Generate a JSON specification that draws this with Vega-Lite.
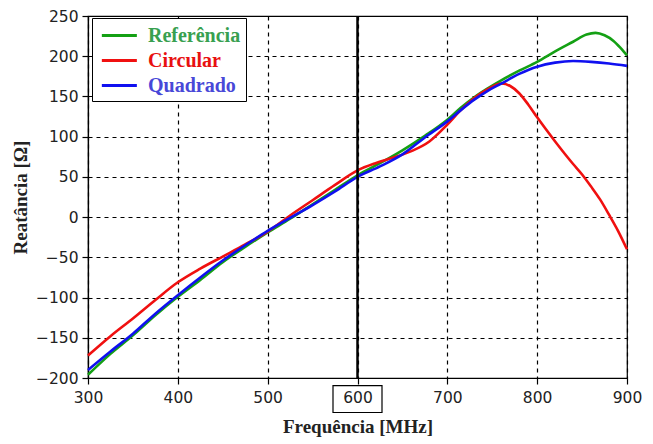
{
  "$schema": "https://vega.github.io/schema/vega-lite/v6.json",
  "width": 539,
  "height": 362,
  "autosize": {"type": "none"},
  "padding": {"left": 88, "top": 16, "right": 26, "bottom": 66},
  "background": "white",
  "config": {
    "view": {"stroke": "#000", "strokeWidth": 1.2},
    "axis": {
      "domainColor": "#000", "domainWidth": 1.2,
      "tickColor": "#000", "tickSize": 6, "tickWidth": 1.2,
      "gridColor": "#000", "gridDash": [4, 4], "gridWidth": 1.2, "gridOpacity": 1,
      "labelFont": "DejaVu Sans", "labelFontSize": 15.5, "labelColor": "#222",
      "titleFont": "Liberation Serif", "titleFontSize": 19, "titleFontWeight": "bold", "titleColor": "#222"
    }
  },
  "datasets": {
    "curves": [
      {"f": 300, "v": -196, "s": "Referência"}, {"f": 325, "v": -170, "s": "Referência"}, {"f": 350, "v": -147, "s": "Referência"}, {"f": 375, "v": -122, "s": "Referência"}, {"f": 400, "v": -99, "s": "Referência"}, {"f": 425, "v": -78, "s": "Referência"}, {"f": 450, "v": -56, "s": "Referência"}, {"f": 475, "v": -37, "s": "Referência"}, {"f": 500, "v": -19, "s": "Referência"}, {"f": 525, "v": -2, "s": "Referência"}, {"f": 550, "v": 16, "s": "Referência"}, {"f": 575, "v": 34, "s": "Referência"}, {"f": 600, "v": 52, "s": "Referência"}, {"f": 625, "v": 67, "s": "Referência"}, {"f": 650, "v": 83, "s": "Referência"}, {"f": 675, "v": 101, "s": "Referência"}, {"f": 700, "v": 121, "s": "Referência"}, {"f": 715, "v": 136, "s": "Referência"}, {"f": 730, "v": 149, "s": "Referência"}, {"f": 745, "v": 160, "s": "Referência"}, {"f": 760, "v": 170, "s": "Referência"}, {"f": 780, "v": 182, "s": "Referência"}, {"f": 800, "v": 193, "s": "Referência"}, {"f": 820, "v": 206, "s": "Referência"}, {"f": 840, "v": 218, "s": "Referência"}, {"f": 855, "v": 227, "s": "Referência"}, {"f": 865, "v": 229, "s": "Referência"}, {"f": 875, "v": 226, "s": "Referência"}, {"f": 885, "v": 219, "s": "Referência"}, {"f": 893, "v": 210, "s": "Referência"}, {"f": 900, "v": 201, "s": "Referência"},
      {"f": 300, "v": -172, "s": "Circular"}, {"f": 325, "v": -148, "s": "Circular"}, {"f": 350, "v": -126, "s": "Circular"}, {"f": 375, "v": -103, "s": "Circular"}, {"f": 400, "v": -81, "s": "Circular"}, {"f": 425, "v": -64, "s": "Circular"}, {"f": 450, "v": -49, "s": "Circular"}, {"f": 475, "v": -34, "s": "Circular"}, {"f": 500, "v": -18, "s": "Circular"}, {"f": 525, "v": 2, "s": "Circular"}, {"f": 550, "v": 21, "s": "Circular"}, {"f": 575, "v": 40, "s": "Circular"}, {"f": 600, "v": 58, "s": "Circular"}, {"f": 620, "v": 67, "s": "Circular"}, {"f": 640, "v": 74, "s": "Circular"}, {"f": 660, "v": 82, "s": "Circular"}, {"f": 680, "v": 94, "s": "Circular"}, {"f": 700, "v": 115, "s": "Circular"}, {"f": 715, "v": 133, "s": "Circular"}, {"f": 730, "v": 148, "s": "Circular"}, {"f": 745, "v": 159, "s": "Circular"}, {"f": 760, "v": 166, "s": "Circular"}, {"f": 770, "v": 163, "s": "Circular"}, {"f": 780, "v": 154, "s": "Circular"}, {"f": 790, "v": 140, "s": "Circular"}, {"f": 800, "v": 124, "s": "Circular"}, {"f": 820, "v": 94, "s": "Circular"}, {"f": 840, "v": 66, "s": "Circular"}, {"f": 850, "v": 53, "s": "Circular"}, {"f": 860, "v": 38, "s": "Circular"}, {"f": 870, "v": 22, "s": "Circular"}, {"f": 880, "v": 3, "s": "Circular"}, {"f": 890, "v": -17, "s": "Circular"}, {"f": 900, "v": -40, "s": "Circular"},
      {"f": 300, "v": -190, "s": "Quadrado"}, {"f": 325, "v": -167, "s": "Quadrado"}, {"f": 350, "v": -145, "s": "Quadrado"}, {"f": 375, "v": -120, "s": "Quadrado"}, {"f": 400, "v": -97, "s": "Quadrado"}, {"f": 425, "v": -75, "s": "Quadrado"}, {"f": 450, "v": -54, "s": "Quadrado"}, {"f": 475, "v": -35, "s": "Quadrado"}, {"f": 500, "v": -17, "s": "Quadrado"}, {"f": 525, "v": -1, "s": "Quadrado"}, {"f": 550, "v": 15, "s": "Quadrado"}, {"f": 575, "v": 32, "s": "Quadrado"}, {"f": 600, "v": 50, "s": "Quadrado"}, {"f": 625, "v": 63, "s": "Quadrado"}, {"f": 650, "v": 78, "s": "Quadrado"}, {"f": 675, "v": 99, "s": "Quadrado"}, {"f": 700, "v": 119, "s": "Quadrado"}, {"f": 715, "v": 133, "s": "Quadrado"}, {"f": 730, "v": 146, "s": "Quadrado"}, {"f": 745, "v": 157, "s": "Quadrado"}, {"f": 760, "v": 166, "s": "Quadrado"}, {"f": 780, "v": 178, "s": "Quadrado"}, {"f": 800, "v": 187, "s": "Quadrado"}, {"f": 820, "v": 192, "s": "Quadrado"}, {"f": 840, "v": 194, "s": "Quadrado"}, {"f": 860, "v": 193, "s": "Quadrado"}, {"f": 880, "v": 191, "s": "Quadrado"}, {"f": 900, "v": 188, "s": "Quadrado"}
    ],
    "marker": [{"f": 600, "v": -200}]
  },
  "layer": [
    {
      "data": {"name": "curves"},
      "mark": {"type": "line", "strokeWidth": 2.6, "interpolate": "monotone"},
      "encoding": {
        "x": {"field": "f", "type": "quantitative", "scale": {"domain": [300, 900], "nice": false, "zero": false},
              "axis": {"title": "Frequência [MHz]", "values": [300, 400, 500, 600, 700, 800, 900], "labelPadding": 6, "titlePadding": 12, "labelFlush": false}},
        "y": {"field": "v", "type": "quantitative", "scale": {"domain": [-200, 250], "nice": false, "zero": false},
              "axis": {"title": "Reatância [Ω]", "values": [-200, -150, -100, -50, 0, 50, 100, 150, 200, 250], "labelPadding": 4, "titlePadding": 5, "labelFlush": false}},
        "color": {"field": "s", "type": "nominal",
          "scale": {"domain": ["Referência", "Circular", "Quadrado"], "range": ["#14a014", "#f01010", "#1010f0"]},
          "legend": {
            "title": null, "orient": "none", "legendX": 4, "legendY": 2,
            "fillColor": "white", "strokeColor": "#000", "padding": 5, "rowPadding": 2,
            "symbolType": "M-0.7,0L2.5,0", "symbolSize": 479, "symbolStrokeWidth": 3,
            "labelFont": "Liberation Serif", "labelFontSize": 20, "labelFontWeight": "bold", "labelOffset": 26,
            "labelExpr": "datum.label + '  '",
            "encode": {
              "labels": {"update": {"fill": {"signal": "datum.value === 'Referência' ? '#38a050' : datum.value === 'Circular' ? '#e81010' : '#4848d8'"}}},
              "symbols": {"update": {"fill": {"value": "transparent"}, "strokeWidth": {"value": 3}, "stroke": {"signal": "datum.value === 'Referência' ? '#10b010' : datum.value === 'Circular' ? '#ff0000' : '#101070'"}}}
            }
          }
        }
      }
    },
    {
      "data": {"name": "marker"},
      "mark": {"type": "rule", "color": "#000", "strokeWidth": 2.5},
      "encoding": {"x": {"field": "f", "type": "quantitative"}}
    },
    {
      "data": {"name": "marker"},
      "mark": {"type": "point", "shape": "M-1,-0.55L1,-0.55L1,0.55L-1,0.55Z", "size": 2401, "filled": false, "stroke": "#000", "strokeWidth": 1.2, "opacity": 1, "yOffset": 21},
      "encoding": {"x": {"field": "f", "type": "quantitative"}, "y": {"field": "v", "type": "quantitative"}}
    }
  ]
}
